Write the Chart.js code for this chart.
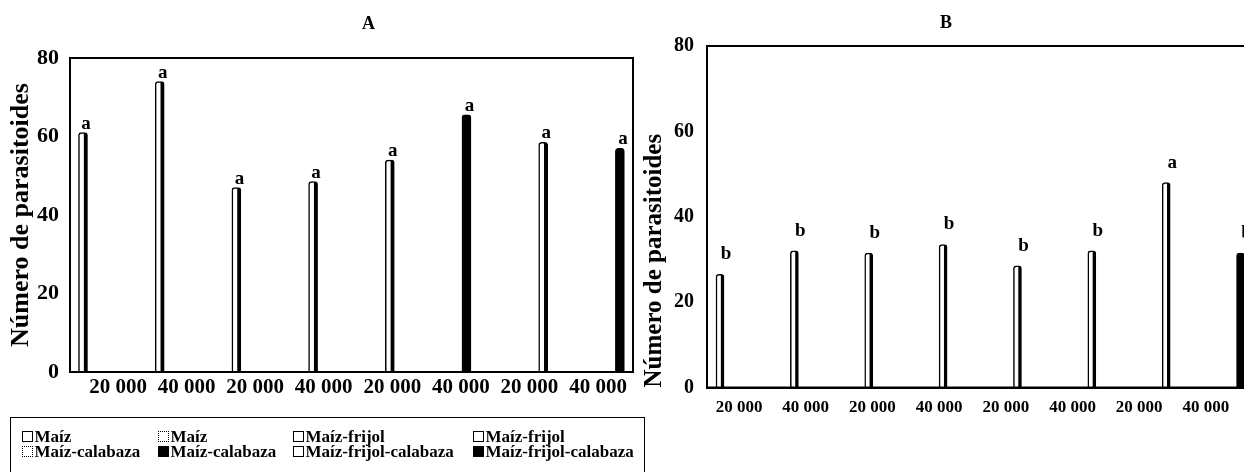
<!DOCTYPE html>
<html><head><meta charset="utf-8">
<script src="https://cdn.jsdelivr.net/npm/chart.js@4/dist/chart.umd.min.js"></script>
<style>
html,body{margin:0;padding:0;background:#fff;width:1244px;height:472px;overflow:hidden;position:relative;}
#wa{position:absolute;left:0;top:0;width:650px;height:410px;}
#wb{position:absolute;left:640px;top:0;width:620px;height:430px;}
#legend{position:absolute;left:10px;top:417px;width:635px;height:80px;border:1.5px solid #000;box-sizing:border-box;padding:11.3px 0 0 10.5px;font:bold 17px/15px "Liberation Serif","Times New Roman",serif;color:#000;display:grid;grid-template-columns:136px 135px 180px auto;align-content:start;white-space:nowrap;}
.sw{display:inline-block;width:9px;height:9px;border:1.4px solid #000;background:#fff;margin-right:2px;vertical-align:0px;}
.sw.dotted{border-style:dotted;}
.sw.solid{background:#000;}
</style></head><body>
<div id="wa"><canvas id="ca"></canvas></div>
<div id="wb"><canvas id="cb"></canvas></div>
<div id="legend"></div>
<script>
// ---- data ----
const seriesNames = ['Maíz','Maíz','Maíz-frijol','Maíz-frijol','Maíz-calabaza','Maíz-calabaza','Maíz-frijol-calabaza','Maíz-frijol-calabaza'];
const legendSwatch = ['open','dotted','open','open','dotted','solid','open','solid'];
const xTickLabels = ['20 000','40 000','20 000','40 000','20 000','40 000','20 000','40 000'];
const yTicks = [0,20,40,60,80];
const valuesA = [61, 74, 47, 48.5, 54, 65.5, 58.5, 57];
const lettersA = ['a','a','a','a','a','a','a','a'];
const fillsA = ['open','open','open','open','open','solid','open','solid'];
const valuesB = [26.5, 32, 31.5, 33.5, 28.5, 32, 48, 31.5];
const lettersB = ['b','b','b','b','b','b','a','b'];
const fillsB = ['open','open','open','open','open','open','open','solid'];
const yTitle = 'Número de parasitoides';

const FAM = "'Liberation Serif','Times New Roman',serif";

// legend (HTML)
const lg = document.getElementById('legend');
seriesNames.forEach((n,i)=>{
  const d = document.createElement('div');
  const s = document.createElement('span');
  s.className = 'sw ' + legendSwatch[i];
  d.appendChild(s);
  d.appendChild(document.createTextNode(n));
  lg.appendChild(d);
});

const framePlugin = {
  id:'frame',
  afterDraw(chart){
    const {left,top,right,bottom} = chart.chartArea;
    const ctx = chart.ctx;
    ctx.save(); ctx.strokeStyle='#000'; ctx.lineWidth=2;
    ctx.strokeRect(left,top,right-left,bottom-top);
    ctx.restore();
  }
};
const lettersPlugin = {
  id:'letters',
  afterDatasetsDraw(chart, args, opts){
    const meta = chart.getDatasetMeta(0);
    const ctx = chart.ctx;
    ctx.save();
    ctx.font = opts.font; ctx.fillStyle='#000'; ctx.textAlign='center'; ctx.textBaseline='alphabetic';
    meta.data.forEach((el,i)=>{ ctx.fillText(opts.letters[i], el.x + opts.dx, el.y - opts.dy); });
    ctx.restore();
  }
};
const panelTitlePlugin = {
  id:'panelTitle',
  afterDraw(chart, args, opts){
    const {left,right} = chart.chartArea;
    const ctx = chart.ctx;
    ctx.save();
    ctx.font = 'bold 18px ' + FAM; ctx.fillStyle='#000'; ctx.textAlign='center'; ctx.textBaseline='middle';
    ctx.fillText(opts.text, left + opts.frac*(right-left), opts.y);
    ctx.restore();
  }
};

function makeChart(id, values, letters, fills, c){
  return new Chart(document.getElementById(id), {
    type:'bar',
    data:{ datasets:[{
      data: values.map((v,i)=>({x:i, y:v})),
      xAxisID:'xb', yAxisID:'y',
      backgroundColor: fills.map(f => f==='solid' ? '#000' : '#fff'),
      borderColor:'#000',
      borderWidth:{left:1.5,right:c.rightBorder,top:1.5,bottom:0},
      borderRadius:{topLeft:3,topRight:3,bottomLeft:0,bottomRight:0},
      borderSkipped:'bottom',
      barThickness:c.barW
    }]},
    options:{
      responsive:true, maintainAspectRatio:false, animation:false, events:[],
      layout:{padding:{left:0,right:c.padRight,top:c.padTop,bottom:0}},
      plugins:{
        legend:{display:false}, tooltip:{enabled:false}, title:{display:false},
        panelTitle:{text:c.title, frac:c.titleFrac, y:c.titleY},
        letters:{letters:letters, font:'bold '+c.letterSize+'px '+FAM, dx:c.ldx, dy:c.ldy}
      },
      scales:{
        xb:{type:'linear', axis:'x', position:'bottom', display:true, offset:false, min:c.barMin, max:c.barMax,
          ticks:{display:false}, grid:{display:false, offset:false}, border:{display:false},
          afterFit: s => { s.height = 0; }
        },
        xl:{type:'linear', axis:'x', position:'bottom', offset:false, min:c.labMin, max:c.labMax,
          afterBuildTicks: s => { s.ticks = xTickLabels.map((_,i)=>({value:i})); },
          afterFit: s => { s.height = c.xAxisH; },
          grid:{display:false, offset:false}, border:{display:true,color:'#000',width:2},
          ticks:{callback: v => xTickLabels[v], color:'#000', autoSkip:false, maxRotation:0,
            font:{family:FAM, size:c.xFont, weight:'bold'}, padding:c.xPad}
        },
        y:{type:'linear', min:0, max:80,
          afterBuildTicks: s => { s.ticks = yTicks.map(v=>({value:v})); },
          afterFit: s => { s.width = c.yW; },
          grid:{display:false}, border:{display:true,color:'#000',width:2},
          ticks:{color:'#000', font:{family:FAM, size:c.yFont, weight:'bold'}, padding:c.yPad},
          title:{display:true, text:yTitle, align:c.yTitleAlign, color:'#000', font:{family:FAM, size:c.yTitleFont, weight:'bold'}, padding:{top:c.yTitlePad,bottom:0}}
        }
      }
    },
    plugins:[lettersPlugin, framePlugin, panelTitlePlugin]
  });
}

makeChart('ca', valuesA, lettersA, fillsA, {
  title:'A', titleFrac:0.53, titleY:24, padTop:58, padRight:17,
  barMin:-0.1695, barMax:7.171, labMin:-0.70, labMax:7.51,
  xAxisH:38, xFont:21, xPad:-5, yW:70, yFont:22, yPad:3, yTitleFont:26, yTitlePad:6, yTitleAlign:'center',
  barW:9, rightBorder:4, letterSize:19, ldx:3, ldy:4
});
makeChart('cb', valuesB, lettersB, fillsB, {
  title:'B', titleFrac:0.44, titleY:23, padTop:46, padRight:10,
  barMin:-0.175, barMax:7.127, labMin:-0.48, labMax:7.661,
  xAxisH:42.5, xFont:17, xPad:2, yW:67, yFont:20, yPad:5, yTitleFont:25, yTitlePad:0, yTitleAlign:'start',
  barW:8, rightBorder:3.5, letterSize:19, ldx:6, ldy:15
});
</script>
</body></html>
